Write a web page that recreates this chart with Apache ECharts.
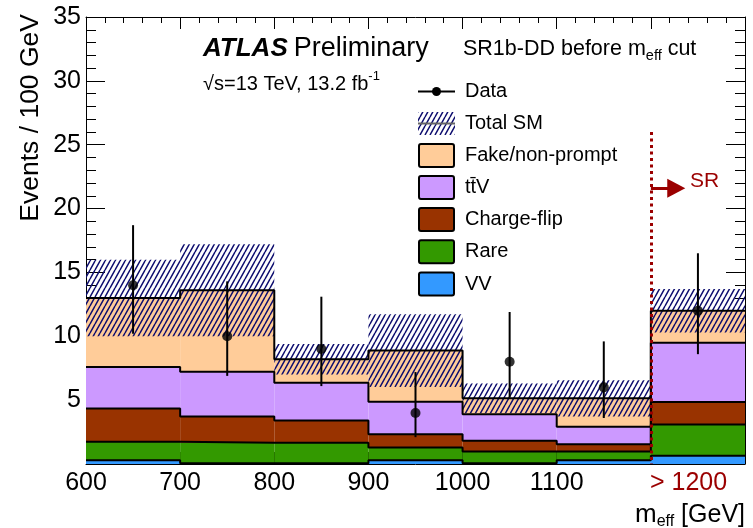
<!DOCTYPE html>
<html><head><meta charset="utf-8">
<script src="https://cdn.jsdelivr.net/npm/echarts@6/dist/echarts.min.js"></script>
<style>html,body{margin:0;padding:0;background:#fff}#c{width:753px;height:528px}</style>
</head><body><div id="c"></div>
<script>
// ---------- data ----------
const binEdges = [600, 700, 800, 900, 1000, 1100, 1200, 1300];
const binCenters = [650, 750, 850, 950, 1050, 1150, 1250];
const xTickValues = [600, 700, 800, 900, 1000, 1100, 1240];
const xTickLabels = ['600', '700', '800', '900', '1000', '1100', '> 1200'];
const yTickLabels = ['', '5', '10', '15', '20', '25', '30', '35'];

const vv         = [0.30, 0.05, 0.05, 0.30, 0.05, 0.30, 0.65];
const rare       = [1.45, 1.62, 1.62, 1.00, 0.92, 0.67, 2.45];
const chargeFlip = [2.60, 2.04, 1.73, 1.02, 0.86, 0.57, 1.76];
const ttV        = [3.25, 3.52, 2.97, 2.56, 2.07, 1.38, 4.64];
const fake       = [5.40, 6.37, 1.83, 4.00, 1.24, 2.22, 2.50];
const totalUnc   = [3.00, 3.60, 1.20, 2.85, 1.17, 1.42, 1.70];

const dataVals    = [14, 10, 9, 4, 8, 6, 12];
const dataErrUp   = [4.7, 4.3, 4.1, 3.2, 3.9, 3.6, 4.5];
const dataErrDown = [3.8, 3.1, 2.9, 1.9, 2.8, 2.4, 3.4];

const srCut = 1200;

// ---------- styles ----------
const FONT = 'Liberation Sans, Arial, sans-serif';
const DARKRED = '#9b0000';
const layers = [
  { name: 'VV', values: vv, color: '#3399ff' },
  { name: 'Rare', values: rare, color: '#339900' },
  { name: 'Charge-flip', values: chargeFlip, color: '#993300' },
  { name: 'tt\u0304V', values: ttV, color: '#cc99ff' },
  { name: 'Fake/non-prompt', values: fake, color: '#ffcc99' }
];

function makeHatch() {
  const c = document.createElement('canvas');
  c.width = 5; c.height = 9;
  const g = c.getContext('2d');
  g.strokeStyle = '#0c0c6e';
  g.lineWidth = 1.5;
  g.beginPath();
  for (const dx of [-5, 0, 5]) { g.moveTo(dx, 9); g.lineTo(dx + 5, 0); }
  g.stroke();
  return c;
}
const hatch = makeHatch();
const hatchFill = { image: hatch, repeat: 'repeat' };

// ---------- build series ----------
const nb = binCenters.length;
const cum = new Array(nb).fill(0);
const series = [];
const stepLevels = [];
layers.forEach((L) => {
  const items = [];
  for (let i = 0; i < nb; i++) {
    const lo = cum[i];
    const hi = cum[i] + L.values[i];
    items.push([binEdges[i], binEdges[i + 1], lo, hi]);
    cum[i] = hi;
  }
  stepLevels.push(cum.slice());
  series.push({
    type: 'custom', name: L.name, z: 2,
    data: items, encode: { x: [0, 1], y: [2, 3] },
    renderItem: (params, api) => {
      const p0 = api.coord([api.value(0), api.value(3)]);
      const p1 = api.coord([api.value(1), api.value(2)]);
      return { type: 'rect', shape: { x: p0[0], y: p0[1], width: p1[0] - p0[0], height: p1[1] - p0[1] },
               style: { fill: L.color } };
    }
  });
});
const total = cum.slice();

// hatch band (total SM uncertainty)
series.push({
  type: 'custom', name: 'Total SM', z: 3,
  data: total.map((t, i) => [binEdges[i], binEdges[i + 1], t - totalUnc[i], t + totalUnc[i]]),
  encode: { x: [0, 1], y: [2, 3] },
  renderItem: (params, api) => {
    const p0 = api.coord([api.value(0), api.value(3)]);
    const p1 = api.coord([api.value(1), api.value(2)]);
    return { type: 'rect', shape: { x: p0[0], y: p0[1], width: p1[0] - p0[0], height: p1[1] - p0[1] },
             style: { fill: hatchFill } };
  }
});

// step outlines
stepLevels.forEach(lv => {
  const pts = [];
  for (let i = 0; i < nb; i++) pts.push([binEdges[i], lv[i]]);
  pts.push([binEdges[nb], lv[nb - 1]]);
  series.push({
    type: 'line', step: 'end', data: pts, symbol: 'none', z: 4, silent: true,
    lineStyle: { color: '#000', width: 2 }
  });
});

// data error bars
series.push({
  type: 'custom', name: 'DataErr', z: 5,
  data: dataVals.map((v, i) => [binCenters[i], v - dataErrDown[i], v + dataErrUp[i]]),
  encode: { x: 0, y: [1, 2] },
  renderItem: (params, api) => {
    const a = api.coord([api.value(0), api.value(1)]);
    const b = api.coord([api.value(0), api.value(2)]);
    return { type: 'line', shape: { x1: a[0], y1: a[1], x2: b[0], y2: b[1] },
             style: { stroke: '#000', lineWidth: 2 } };
  }
});
// data points + SR annotation
series.push({
  type: 'scatter', name: 'Data', z: 6, symbol: 'circle', symbolSize: 10,
  itemStyle: { color: '#000' },
  data: dataVals.map((v, i) => [binCenters[i], v]),
  markLine: {
    silent: true, symbol: 'none', animation: false,
    label: { show: false },
    data: [
      [{ coord: [srCut, 26.0], lineStyle: { color: DARKRED, width: 3, type: [3, 3.5] } },
       { coord: [srCut, 0] }],
      [{ coord: [srCut, 21.6], symbol: 'none', lineStyle: { color: DARKRED, width: 3, type: 'solid' } },
       { coord: [1227, 21.6], symbol: 'triangle', symbolSize: [19, 18] }]
    ]
  }
});

// ---------- text helpers ----------
const mctx = document.createElement('canvas').getContext('2d');
function fontStr(p) { return (p.italic ? 'italic ' : '') + (p.bold ? 'bold ' : '') + p.size + 'px ' + FONT; }
function textRun(x, cy, pieces, align) {
  const widths = pieces.map(p => { mctx.font = fontStr(p); return mctx.measureText(p.t).width + (p.gap || 0); });
  const tot = widths.reduce((a, b) => a + b, 0);
  let cx = align === 'right' ? x - tot : x;
  return pieces.map((p, i) => {
    const el = { type: 'text', x: cx, y: cy + (p.dy || 0), z: 100,
      style: { text: p.t, font: fontStr(p), fill: p.color || '#000', align: 'left', verticalAlign: 'middle' } };
    cx += widths[i];
    return el;
  });
}

const graphics = [];
graphics.push(...textRun(203, 49, [{ t: 'ATLAS', size: 26, bold: true, italic: true, gap: 6 }, { t: 'Preliminary', size: 27 }]));
graphics.push(...textRun(463, 49, [{ t: 'SR1b-DD before m', size: 21.5 }, { t: 'eff', size: 14.5, dy: 7 }, { t: ' cut', size: 21.5 }]));
graphics.push(...textRun(203, 84, [{ t: '\u221As=13 TeV, 13.2 fb', size: 20 }, { t: '-1', size: 13, dy: -8 }]));
graphics.push(...textRun(745, 515, [{ t: 'm', size: 26 }, { t: 'eff', size: 16, dy: 7 }, { t: ' [GeV]', size: 25 }], 'right'));
graphics.push({ type: 'text', x: 31, y: 14, rotation: Math.PI / 2, z: 100,
  style: { text: 'Events / 100 GeV', font: '26.5px ' + FONT, fill: '#000', align: 'right', verticalAlign: 'middle' } });
graphics.push(...textRun(690, 181, [{ t: 'SR', size: 21, color: DARKRED }]));

// legend (drawn as graphic)
const legX = 418, legW = 37, legH = 23, legTextX = 465;
const legRows = [
  { name: 'Data', cy: 91.5, kind: 'data' },
  { name: 'Total SM', cy: 123.5, kind: 'hatch' },
  { name: 'Fake/non-prompt', cy: 155.5, kind: 'box', color: '#ffcc99' },
  { name: 'tt\u0304V', cy: 187.5, kind: 'box', color: '#cc99ff' },
  { name: 'Charge-flip', cy: 219.5, kind: 'box', color: '#993300' },
  { name: 'Rare', cy: 251.7, kind: 'box', color: '#339900' },
  { name: 'VV', cy: 284, kind: 'box', color: '#3399ff' }
];
legRows.forEach(r => {
  if (r.kind === 'data') {
    graphics.push({ type: 'line', z: 100, shape: { x1: legX, y1: r.cy, x2: legX + legW, y2: r.cy }, style: { stroke: '#000', lineWidth: 2 } });
    graphics.push({ type: 'circle', z: 101, shape: { cx: legX + legW / 2, cy: r.cy, r: 4.5 }, style: { fill: '#000' } });
  } else if (r.kind === 'hatch') {
    graphics.push({ type: 'rect', z: 100, shape: { x: legX, y: r.cy - legH / 2, width: legW, height: legH }, style: { fill: hatchFill } });
    graphics.push({ type: 'line', z: 101, shape: { x1: legX, y1: r.cy, x2: legX + legW, y2: r.cy }, style: { stroke: '#666', lineWidth: 2 } });
  } else {
    graphics.push({ type: 'rect', z: 100, shape: { x: legX + 1, y: r.cy - legH / 2, width: legW - 2, height: legH, r: 2 },
      style: { fill: r.color, stroke: '#000', lineWidth: 2 } });
  }
  graphics.push(...textRun(legTextX, r.cy, [{ t: r.name, size: 20 }]));
});

// ---------- axes ----------
const commonX = {
  type: 'value', min: binEdges[0], max: binEdges[binEdges.length - 1], interval: 100,
  axisLine: { show: true, onZero: false, lineStyle: { color: '#000', width: 1 } },
  axisTick: { show: true, inside: true, length: 12, lineStyle: { color: '#000' } },
  minorTick: { show: true, splitNumber: 5, length: 6, lineStyle: { color: '#000' } },
  splitLine: { show: false }, minorSplitLine: { show: false }
};
const commonY = {
  type: 'value', min: 0, max: 35, interval: 5,
  axisLine: { show: true, onZero: false, lineStyle: { color: '#000', width: 1 } },
  axisTick: { show: true, inside: true, length: 19, lineStyle: { color: '#000' } },
  minorTick: { show: true, splitNumber: 5, length: 10, lineStyle: { color: '#000' } },
  splitLine: { show: false }, minorSplitLine: { show: false }
};

const chart = echarts.init(document.getElementById('c'), null, { renderer: 'canvas' });
chart.setOption({
  animation: false,
  backgroundColor: '#fff',
  textStyle: { fontFamily: FONT },
  grid: { left: 86, right: 8, top: 17, bottom: 64, containLabel: false, outerBoundsMode: 'none' },
  xAxis: [
    Object.assign({}, commonX, {
      position: 'bottom',
      axisLabel: {
        show: true, margin: 7, fontSize: 25, color: '#000', fontFamily: FONT,
        customValues: xTickValues,
        formatter: v => { const k = xTickValues.indexOf(v); const s = k >= 0 ? xTickLabels[k] : ''; return v === 1240 ? '{r|' + s + '}' : s; },
        rich: { r: { color: DARKRED, fontSize: 25, fontFamily: FONT } }
      }
    }),
    Object.assign({}, commonX, { position: 'top', axisLabel: { show: false } })
  ],
  yAxis: [
    Object.assign({}, commonY, {
      position: 'left',
      axisLabel: { show: true, margin: 5, fontSize: 25, color: '#000', fontFamily: FONT,
        formatter: v => yTickLabels[Math.round(v / 5)] || '' }
    }),
    Object.assign({}, commonY, { position: 'right', axisLabel: { show: false } })
  ],
  series: series,
  graphic: graphics
});
</script></body></html>
